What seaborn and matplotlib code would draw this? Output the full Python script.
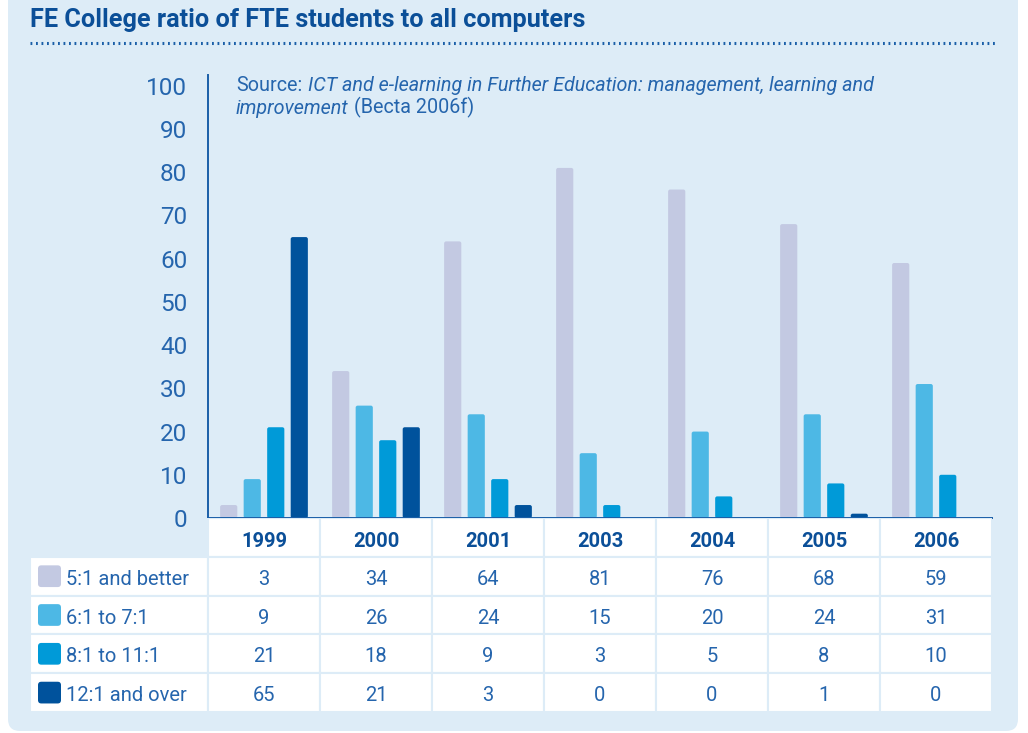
import numpy as np
import pandas as pd
import seaborn as sns
import matplotlib.pyplot as plt
from matplotlib.patches import FancyBboxPatch, Rectangle
from matplotlib.lines import Line2D
from matplotlib.transforms import IdentityTransform

# data
years = ["1999", "2000", "2001", "2003", "2004", "2005", "2006"]
ratios = ["5:1 and better", "6:1 to 7:1", "8:1 to 11:1", "12:1 and over"]
better_5 = [3, 34, 64, 81, 76, 68, 59]
from_6_to_7 = [9, 26, 24, 15, 20, 24, 31]
from_8_to_11 = [21, 18, 9, 3, 5, 8, 10]
over_12 = [65, 21, 3, 0, 0, 1, 0]
colors = ["#c3c9e2", "#4db8e5", "#009ad8", "#00529c"]

all_values = [better_5, from_6_to_7, from_8_to_11, over_12]
df = pd.DataFrame({
    "year": years * len(ratios),
    "ratio": np.repeat(ratios, len(years)),
    "pct": sum(all_values, []),
})

panel = "#ddecf7"
dark = "#0b4f98"
textc = "#2565ad"

sns.set_style("white")
plt.rcParams["font.family"] = ["Roboto", "DejaVu Sans"]

fig = plt.figure(figsize=(10.28, 7.33), dpi=100)
fig.patch.set_facecolor("white")

# light blue panel behind everything
fig.patches.append(FancyBboxPatch((8, 2), 1010, 760, boxstyle="round,pad=0,rounding_size=12",
                                  transform=IdentityTransform(), facecolor=panel,
                                  edgecolor="none", zorder=-5))

fig.text(30 / 1028, 1 - 20 / 733, "FE College ratio of FTE students to all computers",
         fontsize=18.2, fontweight="bold", color=dark, va="center", ha="left")
fig.lines.append(Line2D([30 / 1028, 997 / 1028], [1 - 43 / 733] * 2, transform=fig.transFigure,
                        color="#1a5fa8", lw=2.2, linestyle=(0, (0.6, 1.2))))

# bar chart
ax = fig.add_axes([208 / 1028, (733 - 518) / 733, 784 / 1028, 443 / 733])
ax.set_facecolor(panel)
sns.barplot(data=df, x="year", y="pct", hue="ratio", palette=colors, saturation=1,
            width=0.84, gap=0.27, errorbar=None, legend=False, ax=ax)

# round the bar corners a little
aspect = (784 / 7) / (443 / 102.5)
for bar in list(ax.patches):
    h = bar.get_height()
    if h <= 0:
        bar.remove()
        continue
    rb = FancyBboxPatch((bar.get_x(), bar.get_y()), bar.get_width(), h,
                        boxstyle="round,pad=0,rounding_size=0.018", mutation_aspect=aspect,
                        facecolor=bar.get_facecolor(), edgecolor="none", zorder=2)
    bar.remove()
    ax.add_patch(rb)

ax.set_xlim(-0.5, 6.5)
ax.set_ylim(0, 102.5)
ax.set_yticks(range(0, 101, 10))
ax.set_xticks([])
ax.set_xlabel("")
ax.set_ylabel("")
ax.tick_params(axis="y", length=0, pad=15, labelsize=17.5, labelcolor=textc)
for side in ["top", "right"]:
    ax.spines[side].set_visible(False)
for side in ["left", "bottom"]:
    ax.spines[side].set_color("#1a5fa8")
    ax.spines[side].set_linewidth(1.4)

# source note, mixed regular / italic
src_kw = dict(fontsize=14.2, color=textc)
t1 = ax.text(-0.25, 98.8, "Source:", va="baseline", **src_kw)
ax.annotate("ICT and e-learning in Further Education: management, learning and",
            xy=(1, 0), xycoords=t1, xytext=(4, 0), textcoords="offset points",
            va="bottom", style="italic", **src_kw)
t3 = ax.text(-0.25, 93.4, "improvement", va="baseline", style="italic", **src_kw)
ax.annotate("(Becta 2006f)", xy=(1, 0), xycoords=t3, xytext=(4, 0), textcoords="offset points",
            va="bottom", **src_kw)

# data table under the chart
tab = fig.add_axes([30 / 1028, (733 - 712) / 733, 962 / 1028, 194 / 733])
left = -0.5 - 178 / 112
tab.set_xlim(left, 6.5)
tab.set_ylim(5, 0)
tab.axis("off")

grid = panel
for i, yr in enumerate(years):
    tab.add_patch(Rectangle((i - 0.5, 0), 1, 1, facecolor="white", edgecolor=grid, lw=1.5))
    tab.text(i, 0.6, yr, ha="center", va="center", fontsize=14.5, fontweight="bold", color=dark)

for r, (name, vals, col) in enumerate(zip(ratios, all_values, colors), start=1):
    tab.add_patch(Rectangle((left, r), -0.5 - left, 1, facecolor="white", edgecolor=grid, lw=1.5))
    tab.add_patch(FancyBboxPatch((left + 8 / 112, r + 0.22), 23 / 112, 0.56,
                                 boxstyle="round,pad=0,rounding_size=0.03",
                                 mutation_aspect=112 / 38.8, facecolor=col, edgecolor="none"))
    tab.text(left + 36 / 112, r + 0.58, name, ha="left", va="center", fontsize=14.5,
             color=textc)
    for i, v in enumerate(vals):
        tab.add_patch(Rectangle((i - 0.5, r), 1, 1, facecolor="white", edgecolor=grid, lw=1.5))
        tab.text(i, r + 0.58, str(v), ha="center", va="center", fontsize=14.5, color=textc)

fig.savefig("out.png", dpi=100)
